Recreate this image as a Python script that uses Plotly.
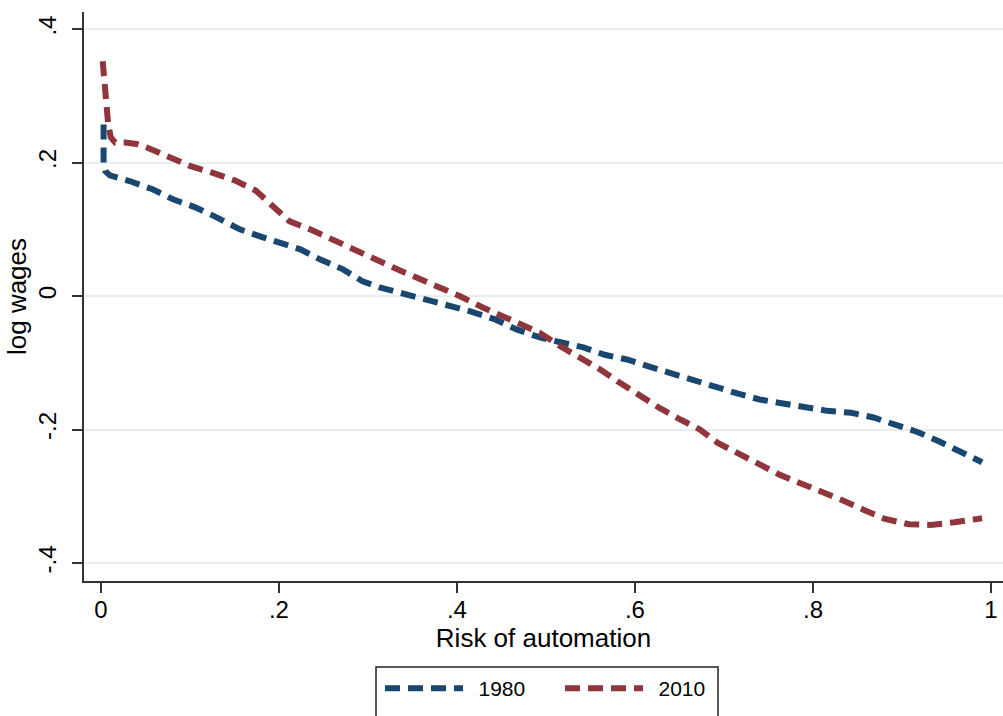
import plotly.graph_objects as go

# Data
risk_1980 = [0.003, 0.003, 0.005, 0.010, 0.033, 0.058, 0.081, 0.106, 0.130, 0.156, 0.182, 0.201,
             0.224, 0.246, 0.272, 0.294, 0.313, 0.336, 0.358, 0.387, 0.415, 0.443, 0.467, 0.493,
             0.519, 0.542, 0.566, 0.591, 0.617, 0.643, 0.670, 0.692, 0.715, 0.740, 0.766, 0.792,
             0.816, 0.843, 0.868, 0.893, 0.918, 0.942, 0.965, 0.990]
wage_1980 = [0.257, 0.200, 0.187, 0.181, 0.172, 0.160, 0.145, 0.133, 0.118, 0.100, 0.088, 0.080,
             0.070, 0.055, 0.040, 0.022, 0.013, 0.005, -0.002, -0.013, -0.023, -0.035, -0.050, -0.062,
             -0.070, -0.077, -0.088, -0.095, -0.106, -0.117, -0.128, -0.136, -0.146, -0.155, -0.161, -0.167,
             -0.172, -0.175, -0.182, -0.193, -0.204, -0.218, -0.233, -0.249]

risk_2010 = [0.002, 0.005, 0.008, 0.011, 0.016, 0.027, 0.040, 0.053, 0.079, 0.100, 0.125, 0.151,
             0.174, 0.190, 0.212, 0.235, 0.261, 0.299, 0.328, 0.355, 0.378, 0.403, 0.429, 0.448,
             0.471, 0.493, 0.516, 0.538, 0.561, 0.583, 0.606, 0.628, 0.651, 0.673, 0.693, 0.717,
             0.739, 0.763, 0.785, 0.810, 0.835, 0.858, 0.881, 0.908, 0.932, 0.959, 0.990]
wage_2010 = [0.352, 0.300, 0.260, 0.238, 0.230, 0.230, 0.228, 0.222, 0.208, 0.195, 0.185, 0.173,
             0.158, 0.138, 0.112, 0.100, 0.085, 0.061, 0.043, 0.028, 0.013, 0.000, -0.017, -0.028,
             -0.040, -0.055, -0.075, -0.092, -0.110, -0.130, -0.150, -0.168, -0.185, -0.200, -0.220, -0.236,
             -0.253, -0.268, -0.280, -0.293, -0.307, -0.321, -0.334, -0.342, -0.343, -0.339, -0.333]

series_names = ["1980", "2010"]
x_ticks = [0, 0.2, 0.4, 0.6, 0.8, 1]
x_ticktext = ["0", ".2", ".4", ".6", ".8", "1"]
y_ticks = [-0.4, -0.2, 0, 0.2, 0.4]
y_ticktext = ["-.4", "-.2", "0", ".2", ".4"]

NAVY = "#1A476F"
MAROON = "#90353B"
FONT = "Liberation Sans, Arial, sans-serif"

# layout geometry (pixels)
W, H = 1003, 716
L, R, T, B = 84, 0, 12, 135
PW, PH = W - L - R, H - T - B


def px_x(p):
    return (p - L) / PW


def px_y(p):
    return (H - B - p) / PH


fig = go.Figure()
fig.add_trace(go.Scatter(x=risk_1980, y=wage_1980, mode="lines", name="\u2002" + series_names[0],
                         line=dict(color=NAVY, width=6, dash="15px,8px")))
fig.add_trace(go.Scatter(x=risk_2010, y=wage_2010, mode="lines", name="\u2002" + series_names[1],
                         line=dict(color=MAROON, width=6, dash="15px,8px")))

# legend frame (Stata style box, running off the bottom edge)
fig.add_shape(type="rect", xref="paper", yref="paper",
              x0=px_x(376), x1=px_x(718), y0=px_y(667), y1=px_y(740),
              line=dict(color="#222222", width=1.5), fillcolor="rgba(0,0,0,0)", layer="above")

fig.update_layout(
    width=W, height=H,
    margin=dict(l=L, r=R, t=T, b=B, autoexpand=False),
    paper_bgcolor="white", plot_bgcolor="white",
    font=dict(family=FONT, color="black", size=24),
    showlegend=True,
    legend=dict(orientation="h", x=380 / W, xanchor="left", xref="container",
                y=1 - 668 / H, yanchor="top", yref="container",
                borderwidth=0, bgcolor="rgba(0,0,0,0)",
                font=dict(size=21, family=FONT), itemwidth=78, entrywidth=87,
                tracegroupgap=0),
    xaxis=dict(range=[-0.019, 1.0135], tickvals=x_ticks, ticktext=x_ticktext,
               showgrid=False, zeroline=False, showline=True, linecolor="#333333", linewidth=2,
               ticks="outside", ticklen=10, tickwidth=2, tickcolor="#333333",
               tickfont=dict(size=24), ticklabelstandoff=-4,
               title=dict(text="Risk of automation", font=dict(size=26), standoff=0)),
    yaxis=dict(range=[-0.427, 0.4257], tickvals=y_ticks, ticktext=y_ticktext,
               showgrid=True, gridcolor="#E6EEF1", gridwidth=2, zeroline=False,
               showline=True, linecolor="#333333", linewidth=2,
               ticks="outside", ticklen=10, tickwidth=2, tickcolor="#333333",
               tickangle=-90, tickfont=dict(size=24), ticklabelstandoff=6,
               title=dict(text="log wages", font=dict(size=26), standoff=0)),
)

fig.write_html("out.html")
